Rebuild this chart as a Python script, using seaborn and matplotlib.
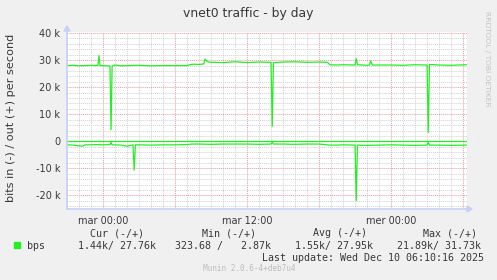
import matplotlib
matplotlib.use("Agg")
import matplotlib.pyplot as plt
import seaborn as sns
from matplotlib.patches import Rectangle, Polygon
from matplotlib.ticker import MultipleLocator

# ---------------- data (hours relative to "mar 00:00", values in kbit/s) -------------
hours_out = [-3.0, -2.5, -2.0, -1.5, -1.0, -0.5, -0.42, -0.33, -0.25, -0.1, 0.3, 0.58, 0.67, 0.76,
             1.0, 1.5, 2.0, 3.0, 4.0, 5.0, 6.0, 7.0, 7.3, 7.6, 8.0, 8.4, 8.5, 8.7, 9.0, 10.0,
             11.0, 12.0, 13.0, 14.0, 14.1, 14.2, 15.0, 16.0, 17.0, 18.0, 18.7, 18.9, 19.5,
             20.0, 21.0, 21.1, 21.2, 22.0, 22.2, 22.3, 22.45, 23.0, 24.0, 25.0, 26.0, 27.0,
             27.1, 27.2, 28.0, 29.0, 30.3]
out_k = [28.0, 28.1, 27.9, 28.0, 28.1, 28.0, 28.0, 31.7, 28.0, 28.0, 27.9, 27.9, 4.3, 27.8,
         28.2, 27.9, 28.0, 28.1, 27.9, 28.0, 28.0, 28.0, 28.4, 28.5, 28.4, 28.6, 30.4, 29.4,
         29.2, 29.1, 29.4, 29.1, 29.3, 29.2, 5.5, 29.1, 29.3, 29.4, 29.2, 29.3, 29.2, 28.3,
         28.2, 28.3, 28.2, 30.6, 28.3, 28.1, 28.2, 29.7, 28.2, 28.2, 28.2, 28.1, 28.3, 28.2,
         3.3, 28.4, 28.2, 28.1, 28.3]

hours_in = [-3.0, -2.5, -1.7, -1.5, -1.0, -0.5, 0.0, 0.58, 0.67, 0.76, 1.0, 1.5, 2.0, 2.5,
            2.6, 2.7, 3.0, 4.0, 5.0, 6.0, 7.0, 7.4, 8.0, 9.0, 10.0, 11.0, 12.0, 13.0, 14.0,
            14.1, 14.2, 15.0, 16.0, 17.0, 18.0, 18.9, 19.5, 20.0, 21.0, 21.1, 21.2, 22.0,
            23.0, 24.0, 25.0, 26.0, 27.0, 27.1, 27.2, 28.0, 29.0, 30.3]
in_k = [1.3, 1.4, 1.8, 1.3, 1.3, 1.2, 1.3, 1.2, 0.4, 1.3, 1.3, 1.4, 1.8, 1.3,
        10.6, 1.3, 1.3, 1.4, 1.3, 1.3, 1.2, 1.0, 1.0, 1.1, 1.0, 1.0, 1.0, 1.1, 1.0,
        0.32, 1.0, 1.0, 1.1, 1.0, 1.0, 1.4, 1.4, 1.3, 1.4, 21.9, 1.4, 1.5,
        1.4, 1.3, 1.4, 1.5, 1.4, 0.4, 1.4, 1.4, 1.5, 1.4]

x_major = [0, 6, 12, 18, 24, 30]
x_labels = {0: "mar 00:00", 12: "mar 12:00", 24: "mer 00:00"}
y_ticks = [-20, -10, 0, 10, 20, 30, 40]
y_labels = ["-20 k", "-10 k", "0", "10 k", "20 k", "30 k", "40 k"]

title = "vnet0 traffic - by day"
ylabel = "bits in (-) / out (+) per second"
side_text = "RRDTOOL / TOBI OETIKER"
series_name = "bps"
legend_headers = ["Cur (-/+)", "Min (-/+)", "Avg (-/+)", "Max (-/+)"]
legend_values = ["1.44k/ 27.76k", "323.68 /   2.87k", "1.55k/ 27.95k", "21.89k/ 31.73k"]
last_update = "Last update: Wed Dec 10 06:10:16 2025"
version = "Munin 2.0.6-4+deb7u4"

# ---------------- style ----------------
sns.set_theme(style="white")
plt.rcParams["font.family"] = ["DejaVu Sans"]

W, H = 497, 280
GREEN = "#22F022"
TXT = "#383838"
AXC = "#C8D0F8"

fig = plt.figure(figsize=(W / 100, H / 100), dpi=100, facecolor="#F0F0F0")
L, R, T, B = 67, 467, 32, 209
ax = fig.add_axes([L / W, 1 - B / H, (R - L) / W, (B - T) / H])
ax.set_facecolor("white")

sns.lineplot(x=hours_out, y=out_k, ax=ax, color=GREEN, lw=0.9, estimator=None)
sns.lineplot(x=hours_in, y=[-v for v in in_k], ax=ax, color=GREEN, lw=0.9, estimator=None)
ax.axhline(0, color=GREEN, lw=0.9, zorder=3)

ax.set_xlim(-3, 30.33)
ax.set_ylim(-25, 40.4)

ax.set_xticks(x_major)
ax.set_xticklabels([x_labels.get(v, "") for v in x_major])
ax.xaxis.set_minor_locator(MultipleLocator(1))
ax.set_yticks(y_ticks)
ax.set_yticklabels(y_labels)
ax.yaxis.set_minor_locator(MultipleLocator(2))

dot = (0, (1, 1))
ax.grid(which="minor", color="#D0D0D0", linestyle=dot, lw=0.7)
ax.grid(which="major", color="#EE9A9A", linestyle=dot, lw=0.7)
ax.set_axisbelow(True)
ax.tick_params(which="major", length=3, width=0.7, color=AXC, direction="inout",
               labelsize=7, labelcolor=TXT, pad=3.2)
ax.tick_params(which="minor", length=2, width=0.7, color=AXC, direction="inout")
for s in ax.spines.values():
    s.set_visible(False)

# axis lines with arrows (drawn in pixel space)
def px(x, y):
    return (x / W, 1 - y / H)

fig.add_artist(plt.Line2D([L / W, L / W], [1 - B / H, 1 - 30 / H], color=AXC, lw=1.2))
fig.add_artist(plt.Line2D([L / W, 468 / W], [1 - B / H, 1 - B / H], color=AXC, lw=1.2))
fig.add_artist(Polygon([px(64, 31), px(70, 31), px(67, 26)], closed=True, color=AXC,
                       transform=fig.transFigure))
fig.add_artist(Polygon([px(467, 206), px(467, 212), px(472, 209)], closed=True, color=AXC,
                       transform=fig.transFigure))

def ftext(x, y, s, **kw):
    fig.text(x / W, 1 - y / H, s, **kw)

ftext(248, 13, title, ha="center", va="center", fontsize=8.9, color=TXT)
ftext(11.5, 118, ylabel, ha="center", va="center", rotation=90, fontsize=8.1, color=TXT)
ftext(486.5, 59, side_text, ha="center", va="center", rotation=-90, fontsize=5.4,
      color="#C4C4C4")

mono = dict(family="DejaVu Sans Mono", fontsize=7.2, color=TXT, va="center", ha="left")
for x, s in zip([90, 201.7, 313.3, 423.3], legend_headers):
    ftext(x, 233.5, s, **mono)
ftext(26.7, 246, series_name, **mono)
for x, s in zip([78.3, 175, 295, 396.7], legend_values):
    ftext(x, 246, s, **mono)
ftext(261.7, 257.7, last_update, **mono)
ftext(249, 268.5, version, family="DejaVu Sans Mono", fontsize=5.6, color="#BDBDBD",
      ha="center", va="center")

fig.add_artist(Rectangle(px(14, 248), 6 / W, 6 / H, color=GREEN, transform=fig.transFigure))

fig.savefig("out.png", dpi=100, facecolor=fig.get_facecolor())
